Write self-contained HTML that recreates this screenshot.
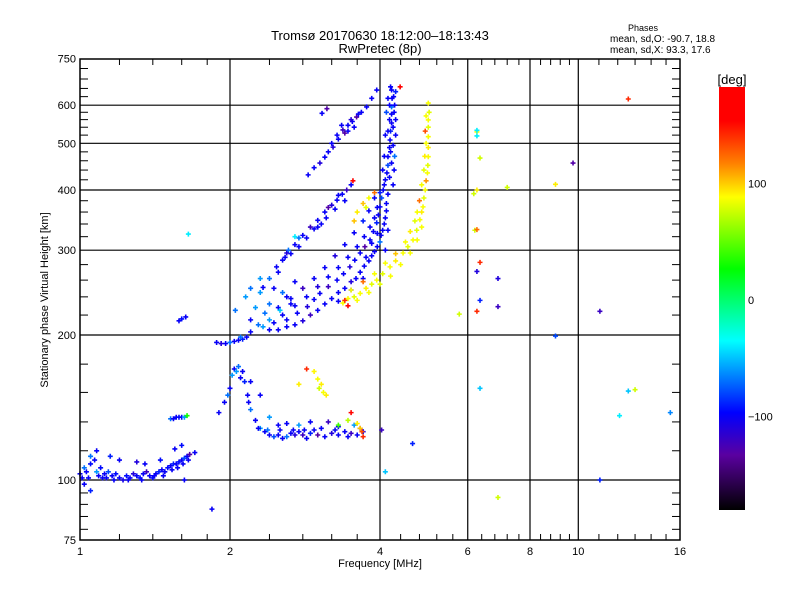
<!DOCTYPE html>
<html><head><meta charset="utf-8"><style>
body{margin:0;background:#fff;}
svg text{font-family:"Liberation Sans",sans-serif;fill:#000;}
</style></head><body>
<svg id="chart" width="800" height="600" viewBox="0 0 800 600" xmlns="http://www.w3.org/2000/svg">
<rect width="800" height="600" fill="#fff"/>
<defs><linearGradient id="cmap" x1="0" y1="0" x2="0" y2="1">
<stop offset="0" stop-color="#ff0000"/><stop offset="0.08" stop-color="#ff0000"/><stop offset="0.18" stop-color="#ff8000"/>
<stop offset="0.26" stop-color="#ffff00"/><stop offset="0.43" stop-color="#00ff00"/><stop offset="0.6" stop-color="#00ffff"/>
<stop offset="0.77" stop-color="#0000ff"/><stop offset="0.87" stop-color="#5a00a0"/><stop offset="1" stop-color="#000000"/>
</linearGradient></defs>
<text x="380" y="40" font-size="13" text-anchor="middle">Tromsø 20170630 18:12:00–18:13:43</text>
<text x="380" y="53" font-size="13" text-anchor="middle">RwPretec (8p)</text>
<text x="643" y="31" font-size="9" text-anchor="middle">Phases</text>
<text x="610" y="42" font-size="10">mean, sd,O: -90.7, 18.8</text>
<text x="610" y="53" font-size="10">mean, sd,X:  93.3, 17.6</text>
<g id="grid"></g>
<g id="marks"></g>
<rect x="80" y="59" width="600" height="481" fill="none" stroke="#000" stroke-width="1.5"/>
<g id="axes"></g>
<text x="380" y="567" font-size="11" text-anchor="middle">Frequency [MHz]</text>
<text x="48" y="300" font-size="11" text-anchor="middle" transform="rotate(-90 48 300)">Stationary phase Virtual Height [km]</text>
<rect x="719" y="87" width="26" height="423" fill="url(#cmap)"/>
<text x="732" y="84" font-size="13" text-anchor="middle">[deg]</text>
<g id="cbar"></g>
</svg>
<script>
const xMajor=[1,2,4,6,8,10,16];
const xGrid=[2,4,6,8,10];
const xMinor=[1.2,1.4,1.6,1.8,2.4,2.8,3.2,3.6,4.4,4.8,5.2,5.6,6.4,6.8,7.2,7.6,8.4,8.8,9.2,9.6,11,12,13,14,15];
const yMajor=[75,100,200,300,400,500,600,750];
const yGrid=[100,200,300,400,500,600];
const yMinor=[79,84,89,94,115,132,152,174,220,240,260,280,320,340,360,380,420,440,460,480,520,540,560,580,625,650,680,715];
const cbarTicks=[100,0,-100];
// [freq MHz, height km, phase deg]
const eTrace=[[1.0,103,-100],[1.02,106,-70],[1.04,101,-100],[1.05,108,-95],[1.07,110,-100],[1.08,104,-60],[1.1,106,-95],[1.12,103,-100],[1.14,104,-80],[1.16,102,-100],[1.18,103,-95],[1.2,101,-100],[1.22,100,-105],[1.24,102,-95],[1.26,101,-100],[1.28,103,-110],[1.3,102,-100],[1.32,101,-95],[1.34,103,-100],[1.36,104,-120],[1.38,102,-100],[1.4,101,-95],[1.42,103,-100],[1.44,104,-90],[1.46,105,-100],[1.48,104,-100],[1.5,106,-95],[1.52,107,-100],[1.54,108,-90],[1.56,108,-100],[1.58,109,-95],[1.6,110,-100],[1.62,111,-80],[1.64,112,-100],[1.66,113,-130],[1.7,114,-100],[1.05,112,-70],[1.08,115,-100],[1.15,112,-90],[1.2,110,-100],[1.3,109,-110],[1.35,108,-100],[1.45,110,-95],[1.55,116,-100],[1.6,118,-95],[1.02,98,-100],[1.05,95,-90],[1.62,100,-100],[1.84,87,-100],[1.01,101,-100],[1.03,104,-100],[1.09,102,-100],[1.11,101,-100],[1.13,101,-100],[1.17,100,-100],[1.25,100,-100],[1.33,100,-100],[1.41,102,-100],[1.47,102,-100],[1.53,105,-100],[1.57,106,-100],[1.61,108,-100],[1.65,110,-100]];
const esTrace=[[1.52,134,-70],[1.54,134,-100],[1.56,135,-100],[1.58,135,-95],[1.6,135,-100],[1.62,135,-60],[1.64,136,30],[1.58,214,-100],[1.6,216,-95],[1.63,218,-100],[1.65,324,-40],[1.88,193,-100],[1.92,192,-110],[1.96,192,-100],[2.0,193,-70],[2.04,194,-100],[2.08,195,-100],[2.12,196,-90],[2.16,198,-100]];
const e2Trace=[[1.9,138,-100],[1.95,145,-100],[1.98,150,-70],[2.0,155,-100],[2.02,165,-60],[2.04,170,-100],[2.08,172,-70],[2.12,168,-100],[2.14,160,-90],[2.17,150,-100],[2.2,140,-70],[2.25,133,-100],[2.3,128,-60],[2.35,126,-100],[2.4,124,-100],[2.45,123,-80],[2.5,124,-100],[2.55,122,-100],[2.6,123,-70],[2.65,125,-100],[2.7,124,-110],[2.75,126,-100],[2.8,124,-120],[2.85,122,-100],[2.9,125,-90],[2.95,127,-100],[3.0,124,-130],[3.1,123,-100],[3.2,125,-110],[3.3,124,-100],[3.4,126,-100],[3.5,125,-120],[3.6,124,-100],[3.7,126,-100],[2.2,160,-100],[2.3,150,-100],[2.4,135,-60],[2.5,130,-100],[2.6,131,-100],[2.75,130,-60],[2.9,132,-100],[3.05,128,-100],[3.15,132,-120],[3.3,129,-100],[3.55,130,-60],[3.65,128,-100],[2.95,168,88],[3.0,162,85],[3.05,158,90],[3.08,152,85],[3.02,155,75],[3.12,150,90],[3.3,130,40],[3.45,133,70],[3.6,131,90],[3.65,128,100],[3.68,126,130],[3.7,123,140],[2.85,170,140],[2.75,158,90],[3.5,138,150],[2.06,168,-60],[2.1,163,-100],[2.18,145,-100],[2.28,128,-100],[2.38,127,-70],[2.52,127,-100],[2.68,127,-100],[2.82,127,-100],[3.25,127,-100],[3.45,123,-100]];
const oTrace=[[2.2,215,-100],[2.35,222,-70],[2.5,228,-100],[2.65,238,-100],[2.8,250,-120],[2.95,262,-100],[3.1,276,-100],[3.25,292,-110],[3.4,308,-100],[3.55,326,-100],[3.7,345,-90],[3.8,362,-100],[3.9,385,-100],[2.1,198,-70],[2.2,203,-100],[2.33,208,-60],[2.45,212,-100],[2.6,215,-100],[2.73,222,-100],[2.86,229,-110],[2.95,237,-100],[3.03,244,-100],[3.15,252,-120],[3.28,260,-100],[3.38,268,-100],[3.48,277,-110],[3.56,286,-100],[3.65,296,-100],[3.73,305,-130],[3.82,315,-100],[3.88,328,-100],[3.94,342,-90],[3.97,355,-100],[4.0,369,-100],[4.03,385,-80],[4.06,400,-100],[2.5,205,-100],[2.7,210,-100],[2.9,220,-120],[3.1,232,-100],[3.3,245,-100],[3.5,258,-110],[3.65,270,-100],[3.8,285,-100],[3.9,298,-100],[4.0,312,-70],[4.05,330,-100],[4.1,350,-100],[4.12,375,-100],[4.1,420,-100],[4.13,434,-100],[4.15,450,-80],[4.15,469,-100],[4.18,490,-100],[4.19,508,-100],[4.2,530,-90],[4.22,551,-100],[4.22,575,-100],[4.22,595,-70],[4.23,620,-100],[4.22,645,-100],[4.25,410,-100],[4.27,440,-100],[4.28,470,-70],[4.3,520,-100],[4.3,560,-100],[4.28,600,-100],[4.3,640,-90],[4.08,470,-100],[4.1,520,-100],[4.12,580,-80],[4.15,620,-100],[4.05,440,-100],[2.3,245,-60],[2.45,250,-100],[2.55,245,-70],[2.6,240,-100],[2.7,258,-100],[2.25,228,-60],[2.4,232,-70],[2.52,225,-50],[2.65,232,-100],[2.58,290,-100],[2.62,300,-70],[2.5,270,-100],[2.7,320,-40],[4.39,655,170],[3.53,418,170],
[2.28,210,-70],[2.4,215,-60],[2.55,220,-100],[2.7,230,-100],[2.85,240,-100],[3.0,252,-110],[3.15,264,-100],[3.3,276,-100],[3.45,290,-100],[3.6,305,-100],[3.72,320,-100],[3.82,335,-100],[3.9,350,-100],[3.95,368,-100],[2.4,205,-100],[2.6,208,-100],[2.8,214,-110],[3.0,225,-100],[3.2,238,-100],[3.4,250,-100],[3.58,262,-100],[3.72,278,-100],[3.85,292,-100],[3.95,305,-100],[4.02,322,-100],[4.08,340,-100],[4.12,362,-100],[4.15,392,-100],[4.0,395,-90],[4.08,410,-100],[4.18,425,-100],[4.22,455,-100],[4.2,480,-100],[4.25,495,-100],[4.15,530,-100],[4.25,540,-100],[4.18,560,-100],[4.27,580,-100],[4.18,600,-100],[4.26,625,-100],[4.2,655,-100],[3.3,235,-100],[3.5,248,-100],[3.7,262,-100],[3.75,290,-100],[3.85,310,-100],[3.95,325,-100],[4.1,300,-100],[4.15,330,-100]];
const hop2Trace=[[2.33,251,-100],[2.4,262,-70],[2.48,277,-100],[2.55,286,-100],[2.6,296,-110],[2.7,308,-100],[2.8,322,-100],[2.9,335,-120],[3.0,346,-100],[3.1,360,-100],[3.2,372,-110],[3.28,381,-100],[3.36,392,-100],[3.43,400,-120],[3.5,410,-100],[2.75,318,-70],[2.95,332,-100],[3.05,340,-100],[3.15,368,-130],[3.3,390,-100],[2.87,430,-100],[2.95,445,-100],[3.03,455,-110],[3.1,468,-100],[3.15,480,-100],[3.22,491,-110],[3.3,510,-100],[3.37,533,-120],[3.45,545,-100],[3.52,555,-100],[3.59,567,-130],[3.67,580,-100],[3.76,595,-100],[3.85,620,-100],[3.94,645,-100],[3.2,500,-100],[3.4,525,-130],[3.55,540,-100],[3.62,575,-100],[3.5,560,-110],[3.06,577,-100],[3.13,590,-130],[2.65,295,-100],[2.75,305,-100],[2.85,318,-100],[3.0,335,-100],[3.12,350,-100],[3.25,365,-100],[3.4,380,-100],[3.28,520,-100],[3.45,530,-100],[3.35,545,-100],[2.3,262,-60],[2.2,250,-70],[2.15,240,-60],[2.05,225,-70]];
const xTrace=[[3.37,233,85],[3.45,238,85],[3.55,240,80],[3.65,244,85],[3.75,250,90],[3.85,255,80],[3.94,260,85],[4.05,268,80],[4.19,277,85],[4.3,285,90],[4.45,296,85],[4.55,305,80],[4.66,315,85],[4.74,330,80],[4.81,347,85],[4.85,360,90],[4.88,369,85],[4.9,385,80],[4.93,400,85],[4.95,418,110],[4.98,434,85],[4.99,450,80],[5.0,469,85],[5.0,490,90],[5.0,516,85],[5.0,540,80],[5.0,559,85],[5.02,580,80],[5.0,606,85],[3.5,248,85],[3.7,258,120],[3.9,268,85],[4.1,282,85],[4.3,295,100],[4.5,312,85],[4.6,328,90],[4.7,345,80],[4.75,360,85],[4.8,380,120],[4.85,410,85],[4.9,440,80],[4.92,470,90],[4.95,500,85],[4.93,530,130],[4.95,570,85],[3.45,230,150],[3.4,236,140],[3.6,360,90],[3.7,375,100],[3.8,385,85],[3.9,395,120],[3.75,368,80],[3.55,345,100],[3.6,236,85],[3.8,245,85],[4.0,255,80],[4.2,265,85],[4.4,280,85],[4.6,296,85],[4.75,315,85],[4.85,335,85]];
const scatterPts=[[12.6,618,140],[6.26,528,85],[6.26,532,-40],[6.26,518,-40],[6.35,466,75],[9.76,455,-130],[7.2,405,75],[9.0,411,90],[6.26,400,90],[6.17,393,75],[6.2,330,75],[6.26,331,120],[6.35,283,140],[6.26,271,-110],[6.9,262,-110],[6.35,236,-90],[6.26,224,140],[5.77,221,75],[6.9,229,-120],[11.05,224,-120],[9.0,199,-80],[6.35,155,-50],[12.6,153,-50],[13.0,154,75],[12.1,136,-40],[15.3,138,-65],[11.05,100,-90],[6.9,92,75],[4.03,127,-120],[4.1,104,-50],[4.65,119,-90]];

const NS='http://www.w3.org/2000/svg';
function xs(f){return 80+150*Math.log2(f);}
function ys(h){return 480-145*Math.log2(h/100);}
function mk(tag,attrs,parent){const e=document.createElementNS(NS,tag);for(const k in attrs)e.setAttribute(k,attrs[k]);parent.appendChild(e);return e;}
function color(p){
  const st=[[0,255,0,0],[0.08,255,0,0],[0.18,255,128,0],[0.26,255,255,0],[0.43,0,255,0],[0.6,0,255,255],[0.77,0,0,255],[0.87,90,0,160],[1,0,0,0]];
  let t=(180-p)/360;t=Math.max(0,Math.min(1,t));
  for(let i=1;i<st.length;i++){if(t<=st[i][0]){const a=st[i-1],b=st[i],u=(t-a[0])/(b[0]-a[0]||1);
    return 'rgb('+[1,2,3].map(j=>Math.round(a[j]+(b[j]-a[j])*u)).join(',')+')';}}
  return '#000';
}
const grid=document.getElementById('grid'),axes=document.getElementById('axes'),marks=document.getElementById('marks'),cbar=document.getElementById('cbar');
xGrid.forEach(f=>{const l=mk('line',{x1:xs(f),x2:xs(f),y1:59,y2:540,stroke:'#000','stroke-width':1.2},grid);

});
yGrid.forEach(h=>{const l=mk('line',{x1:80,x2:680,y1:ys(h),y2:ys(h),stroke:'#000','stroke-width':1.2},grid);

});
xMinor.forEach(f=>{const x=xs(f);
const a=mk('line',{x1:x,x2:x,y1:540,y2:534,stroke:'#000'},axes);


const b=mk('line',{x1:x,x2:x,y1:59,y2:65,stroke:'#000'},axes);

});
xMajor.forEach(f=>{const t=mk('text',{x:xs(f),y:555,'font-size':11,'text-anchor':'middle'},axes);t.textContent=String(f);

});
yMinor.forEach(h=>{const y=ys(h);
const a=mk('line',{x1:80,x2:88,y1:y,y2:y,stroke:'#000'},axes);


const b=mk('line',{x1:672,x2:680,y1:y,y2:y,stroke:'#000'},axes);

});
yMajor.forEach(h=>{const t=mk('text',{x:76,y:ys(h)+4,'font-size':11,'text-anchor':'end'},axes);t.textContent=String(h);

});
[eTrace,esTrace,e2Trace,oTrace,hop2Trace,xTrace,scatterPts].forEach(arr=>arr.forEach(d=>{
  const x=xs(d[0]),y=ys(d[1]);
  const p=mk('path',{d:'M'+(x-2.5)+' '+y+'h5M'+x+' '+(y-2.5)+'v5',stroke:color(d[2]),'stroke-width':1.6},marks);
  
  
}));
cbarTicks.forEach(v=>{const y=300-v*1.165;const t=mk('text',{x:748,y:y+4,'font-size':11},cbar);t.textContent=v<0?'\u2212'+(-v):String(v);

});
</script>
</body></html>
